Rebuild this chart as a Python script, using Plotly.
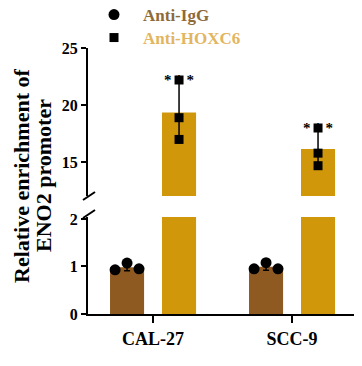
import plotly.graph_objects as go
import numpy as np

categories = ["CAL-27", "SCC-9"]
igg_points = [[0.93, 1.07, 0.95], [0.95, 1.08, 0.95]]
hoxc6_points = [[22.2, 18.9, 17.0], [18.0, 15.8, 14.7]]
series_names = ["Anti-IgG", "Anti-HOXC6"]
sig_labels = ["* * *", "* * *"]
lower_ticks = [0, 1, 2]
upper_ticks = [15, 20, 25]
y_title_lines = ["Relative enrichment of", "ENO2 promoter"]

igg_mean = [float(np.mean(p)) for p in igg_points]
igg_sd = [float(np.std(p, ddof=1)) for p in igg_points]
hox_mean = [float(np.mean(p)) for p in hoxc6_points]
hox_sd = [float(np.std(p, ddof=1)) for p in hoxc6_points]

IGG_COLOR = "#8E5A22"
HOX_COLOR = "#D1970B"
FONT = "Liberation Serif"

idx = np.arange(len(categories))
shift = 0.187
bw = 0.245
x_igg = idx - shift
x_hox = idx + shift

fig = go.Figure()

fig.add_trace(go.Bar(x=x_igg, y=igg_mean, width=bw, marker_color=IGG_COLOR,
                     marker_line_width=0, showlegend=False, yaxis="y",
                     error_y=dict(type="data", array=igg_sd, color="black", thickness=1.5, width=3)))
fig.add_trace(go.Bar(x=x_hox, y=hox_mean, width=bw, marker_color=HOX_COLOR,
                     marker_line_width=0, showlegend=False, yaxis="y"))
fig.add_trace(go.Bar(x=x_hox, y=hox_mean, width=bw, marker_color=HOX_COLOR,
                     marker_line_width=0, showlegend=False, yaxis="y2",
                     error_y=dict(type="data", array=hox_sd, color="black", thickness=1.5, width=3)))

px_igg, py_igg, px_hox, py_hox = [], [], [], []
for i in range(len(categories)):
    offs = [-0.086, 0.0, 0.086]
    for j, v in enumerate(igg_points[i]):
        px_igg.append(x_igg[i] + offs[j]); py_igg.append(v)
    for v in hoxc6_points[i]:
        px_hox.append(x_hox[i]); py_hox.append(v)

fig.add_trace(go.Scatter(x=px_igg, y=py_igg, mode="markers", yaxis="y",
                         marker=dict(symbol="circle", size=11, color="black"),
                         legend="legend",
                         name=f"<b><span style='color:#8E6A3A'>{series_names[0]}</span></b>"))
fig.add_trace(go.Scatter(x=px_hox, y=py_hox, mode="markers", yaxis="y2",
                         marker=dict(symbol="square", size=9, color="black"),
                         legend="legend2",
                         name=f"<b><span style='color:#E2B55E'>{series_names[1]}</span></b>"))

for i in range(len(categories)):
    fig.add_annotation(x=x_hox[i], y=max(hoxc6_points[i]), yref="y2", xref="x",
                       text=f"<b>{sig_labels[i]}</b>", showarrow=False,
                       font=dict(family=FONT, size=15, color="black"), yanchor="middle")

# page has an 8px body margin: page_y = fig_y + 8
OFF = 8
H = 366
top_m, bot_m = 0, H - (314 - OFF)
ph = H - top_m - bot_m
def frac(py):
    return (H - bot_m - (py - OFF)) / ph

PL = 88 - OFF
PR = 355 - OFF
pw = PR - PL
def xfrac(px):
    return (px - 88) / pw

axis_common = dict(showline=True, linecolor="black", linewidth=2, ticks="outside",
                   ticklen=5, tickwidth=2, tickcolor="black", showgrid=False, zeroline=False,
                   automargin=False,
                   tickfont=dict(family=FONT, size=16, color="black"))

leg_common = dict(xanchor="left", yanchor="middle", bgcolor="rgba(0,0,0,0)",
                  font=dict(family=FONT, size=17), itemwidth=48)

fig.update_layout(
    width=362, height=366,
    margin=dict(l=PL, r=362 - PR, t=top_m, b=bot_m, autoexpand=False),
    plot_bgcolor="white", paper_bgcolor="white",
    barmode="overlay",
    xaxis=dict(range=[-0.468, 1.453], tickvals=list(idx), ticktext=[f"<b>{c}</b>" for c in categories],
               showline=True, linecolor="black", linewidth=2, ticks="outside", ticklen=7,
               tickwidth=2, tickcolor="black", showgrid=False, zeroline=False, automargin=False,
               tickfont=dict(family=FONT, size=18, color="black"), anchor="y"),
    yaxis=dict(domain=[0, frac(217)], range=[0, 2.04], tickvals=lower_ticks,
               ticktext=[f"<b>{t}</b>" for t in lower_ticks], **axis_common),
    yaxis2=dict(domain=[frac(196), frac(48)], range=[12.05, 25], tickvals=upper_ticks,
                ticktext=[f"<b>{t}</b>" for t in upper_ticks], anchor="x", **axis_common),
    legend=dict(x=xfrac(85), y=frac(15), **leg_common),
    legend2=dict(x=xfrac(85), y=frac(38), **leg_common),
    showlegend=True,
)

for xc, line in zip([21, 43], y_title_lines):
    fig.add_annotation(xref="paper", yref="paper", x=xfrac(xc), y=frac(176), xanchor="center",
                       yanchor="middle", text=f"<b>{line}</b>", textangle=-90,
                       showarrow=False, font=dict(family=FONT, size=22, color="black"))

for yb in [196, 214]:
    fig.add_shape(type="line", xref="paper", yref="paper",
                  x0=xfrac(83), x1=xfrac(95), y0=frac(yb + 4), y1=frac(yb - 4),
                  line=dict(color="black", width=2))

fig.write_html("out.html")
